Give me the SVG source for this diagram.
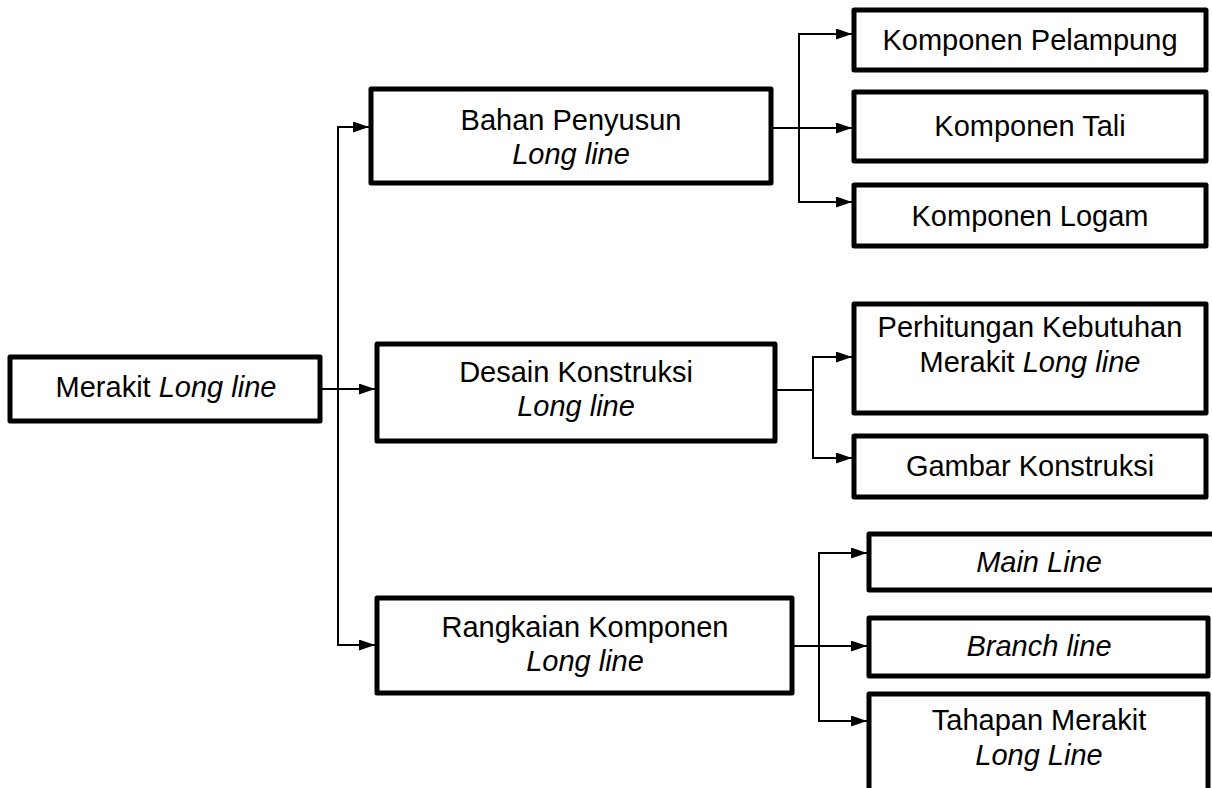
<svg xmlns="http://www.w3.org/2000/svg" width="1212" height="788" viewBox="0 0 1212 788">
<style>
.box{fill:#fff;stroke:#000;stroke-width:5;stroke-linejoin:round}
.t{font-family:"Liberation Sans",Arial,sans-serif;font-size:29px;fill:#000;text-anchor:middle}
.i{font-style:italic}
.c{fill:none;stroke:#000;stroke-width:2}
</style>
<defs>
<marker id="ah" markerUnits="userSpaceOnUse" markerWidth="17" markerHeight="12" refX="16" refY="5.5" orient="auto">
<path d="M0,0 L16,5.5 L0,11 z" fill="#000"/>
</marker>
</defs>
<rect width="1212" height="788" fill="#fff"/>
<g id="connectors">
<line class="c" x1="322" y1="389" x2="375" y2="389" marker-end="url(#ah)"/>
<polyline class="c" points="369,127 338,127 338,645 375,645" marker-end="url(#ah)"/>
<line class="c" x1="338" y1="127" x2="369" y2="127" marker-end="url(#ah)"/>
<line class="c" x1="773" y1="128" x2="852" y2="128" marker-end="url(#ah)"/>
<polyline class="c" points="852,34 799,34 799,202 852,202" marker-end="url(#ah)"/>
<line class="c" x1="799" y1="34" x2="852" y2="34" marker-end="url(#ah)"/>
<polyline class="c" points="777,390 813,390"/>
<polyline class="c" points="852,357 813,357 813,458 852,458" marker-end="url(#ah)"/>
<line class="c" x1="813" y1="357" x2="852" y2="357" marker-end="url(#ah)"/>
<line class="c" x1="794" y1="646" x2="867" y2="646" marker-end="url(#ah)"/>
<polyline class="c" points="867,553 819,553 819,721 867,721" marker-end="url(#ah)"/>
<line class="c" x1="819" y1="553" x2="867" y2="553" marker-end="url(#ah)"/>
</g>
<g id="merakit">
<rect class="box" x="10" y="357" width="310" height="64"/>
<text class="t" x="166" y="397">Merakit <tspan class="i">Long line</tspan></text>
</g>
<g id="bahan">
<rect class="box" x="371" y="89" width="400" height="94"/>
<text class="t" x="571" y="130">Bahan Penyusun</text>
<text class="t i" x="571" y="164">Long line</text>
</g>
<g id="desain">
<rect class="box" x="377" y="344" width="398" height="97"/>
<text class="t" x="576" y="382">Desain Konstruksi</text>
<text class="t i" x="576" y="416">Long line</text>
</g>
<g id="rangkaian">
<rect class="box" x="377" y="598" width="415" height="95"/>
<text class="t" x="585" y="637">Rangkaian Komponen</text>
<text class="t i" x="585" y="671">Long line</text>
</g>
<g id="pelampung">
<rect class="box" x="854" y="10" width="352" height="60"/>
<text class="t" x="1030" y="50">Komponen Pelampung</text>
</g>
<g id="tali">
<rect class="box" x="854" y="92" width="352" height="69"/>
<text class="t" x="1030" y="136">Komponen Tali</text>
</g>
<g id="logam">
<rect class="box" x="854" y="185" width="352" height="61"/>
<text class="t" x="1030" y="226">Komponen Logam</text>
</g>
<g id="perhitungan">
<rect class="box" x="854" y="304" width="352" height="109"/>
<text class="t" x="1030" y="337">Perhitungan Kebutuhan</text>
<text class="t" x="1030" y="372">Merakit <tspan class="i">Long line</tspan></text>
</g>
<g id="gambar">
<rect class="box" x="854" y="436" width="352" height="61"/>
<text class="t" x="1030" y="476">Gambar Konstruksi</text>
</g>
<g id="mainline">
<rect class="box" x="869" y="534" width="360" height="56"/>
<text class="t i" x="1039" y="572">Main Line</text>
</g>
<g id="branchline">
<rect class="box" x="869" y="618" width="339" height="58"/>
<text class="t i" x="1039" y="656">Branch line</text>
</g>
<g id="tahapan">
<rect class="box" x="869" y="694" width="339" height="110"/>
<text class="t" x="1039" y="730">Tahapan Merakit</text>
<text class="t i" x="1039" y="765">Long Line</text>
</g>
</svg>
